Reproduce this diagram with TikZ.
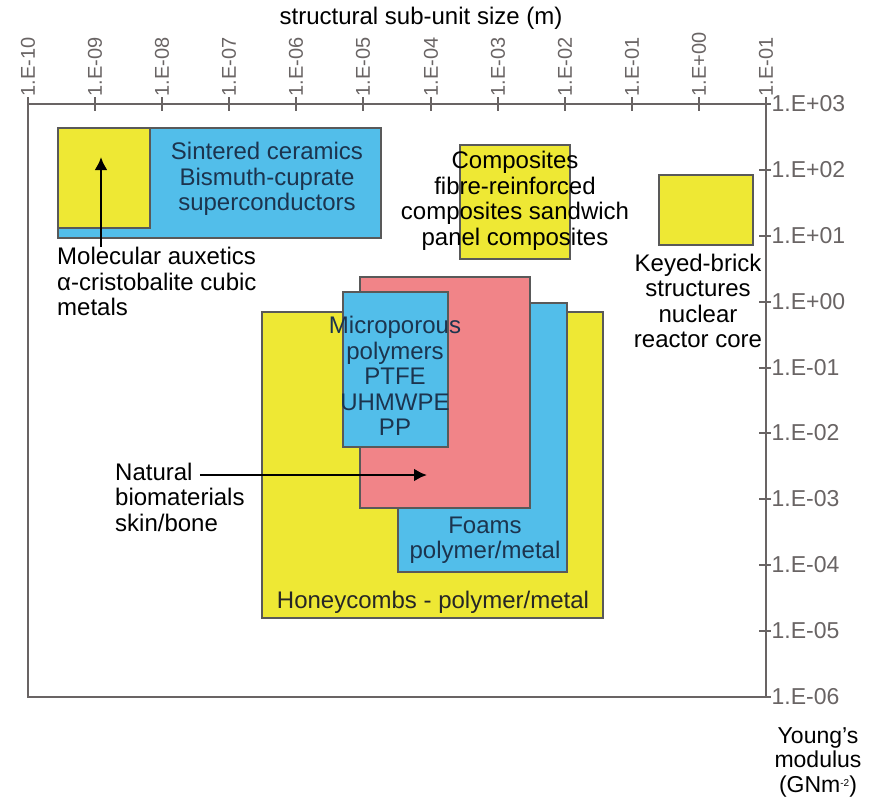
\documentclass[tikz,border=0pt]{standalone}
\usepackage{fontspec}
\setmainfont{Liberation Sans}
\usetikzlibrary{arrows.meta,positioning}

\definecolor{boxyellow}{RGB}{238,232,52}
\definecolor{boxblue}{RGB}{82,190,234}
\definecolor{boxpink}{RGB}{241,132,136}
\definecolor{navytext}{RGB}{28,52,78}
\definecolor{axisgray}{RGB}{105,100,100}

\begin{document}
\begin{tikzpicture}[x=1pt, y=-1pt,
    lab/.style={font=\fontsize{24}{25.5}\selectfont, align=center, inner sep=0pt},
    toplab/.style={font=\fontsize{20}{20}\selectfont, rotate=90, anchor=west, inner sep=0pt},
    rightlab/.style={font=\fontsize{23}{23}\selectfont, anchor=west, inner sep=0pt},
    box/.style={draw=black!65, line width=1.3pt},
    pointer/.style={-{Latex[length=13pt,width=13pt]}, line width=2.6pt}]
    \useasboundingbox (0,0) rectangle (869,801);

    % Frame and axes
    \draw[axisgray, line width=1.6pt] (28,104) rectangle (766,697);
    \node[lab] (xtitle) at (421,18) {structural sub-unit size (m)};

    % Top axis: sub-unit size
    \draw[axisgray, line width=1.3pt] (28,97) -- (28,111) node[pos=0, toplab] (x0) {1.E-10};
    \draw[axisgray, line width=1.3pt] (95,97) -- (95,111) node[pos=0, toplab] (x1) {1.E-09};
    \draw[axisgray, line width=1.3pt] (162,97) -- (162,111) node[pos=0, toplab] (x2) {1.E-08};
    \draw[axisgray, line width=1.3pt] (229,97) -- (229,111) node[pos=0, toplab] (x3) {1.E-07};
    \draw[axisgray, line width=1.3pt] (296,97) -- (296,111) node[pos=0, toplab] (x4) {1.E-06};
    \draw[axisgray, line width=1.3pt] (363,97) -- (363,111) node[pos=0, toplab] (x5) {1.E-05};
    \draw[axisgray, line width=1.3pt] (431,97) -- (431,111) node[pos=0, toplab] (x6) {1.E-04};
    \draw[axisgray, line width=1.3pt] (498,97) -- (498,111) node[pos=0, toplab] (x7) {1.E-03};
    \draw[axisgray, line width=1.3pt] (565,97) -- (565,111) node[pos=0, toplab] (x8) {1.E-02};
    \draw[axisgray, line width=1.3pt] (632,97) -- (632,111) node[pos=0, toplab] (x9) {1.E-01};
    \draw[axisgray, line width=1.3pt] (699,97) -- (699,111) node[pos=0, toplab] (x10) {1.E+00};
    \draw[axisgray, line width=1.3pt] (766,97) -- (766,111) node[pos=0, toplab] (x11) {1.E-01};

    % Right axis: Young's modulus
    \draw[axisgray, line width=1.3pt] (759,104) -- (771,104) node[rightlab] (y0) {1.E+03};
    \draw[axisgray, line width=1.3pt] (759,170) -- (771,170) node[rightlab] (y1) {1.E+02};
    \draw[axisgray, line width=1.3pt] (759,236) -- (771,236) node[rightlab] (y2) {1.E+01};
    \draw[axisgray, line width=1.3pt] (759,302) -- (771,302) node[rightlab] (y3) {1.E+00};
    \draw[axisgray, line width=1.3pt] (759,368) -- (771,368) node[rightlab] (y4) {1.E-01};
    \draw[axisgray, line width=1.3pt] (759,433) -- (771,433) node[rightlab] (y5) {1.E-02};
    \draw[axisgray, line width=1.3pt] (759,499) -- (771,499) node[rightlab] (y6) {1.E-03};
    \draw[axisgray, line width=1.3pt] (759,565) -- (771,565) node[rightlab] (y7) {1.E-04};
    \draw[axisgray, line width=1.3pt] (759,631) -- (771,631) node[rightlab] (y8) {1.E-05};
    \draw[axisgray, line width=1.3pt] (759,697) -- (771,697) node[rightlab] (y9) {1.E-06};
    \node[lab, font=\fontsize{23}{24.5}\selectfont] (ytitle) at (818,762)
        {Young's\\modulus\\(GNm\raisebox{6pt}{\fontsize{10}{10}\selectfont -2})};

    % Ceramics and molecular auxetics
    \filldraw[box, fill=boxblue] (58,128) rectangle (381,238);
    \filldraw[box, fill=boxyellow] (58,128) rectangle (150,228);
    \node[lab, text=navytext] (ceram) at (267,179) {Sintered ceramics\\Bismuth-cuprate\\superconductors};
    \node[lab, align=left, anchor=north west] (mol) at (57,247) {Molecular auxetics\\α-cristobalite cubic\\metals};
    \coordinate (molend) at (101,157);
    \draw[pointer] (mol.north -| molend) -- (molend);

    % Composites
    \filldraw[box, fill=boxyellow] (460,145) rectangle (570,259);
    \node[lab] (comp) at (515,201) {Composites\\fibre-reinforced\\composites sandwich\\panel composites};

    % Keyed-brick
    \filldraw[box, fill=boxyellow] (659,175) rectangle (753,245);
    \node[lab] (keyed) at (698,301) {Keyed-brick\\structures\\nuclear\\reactor core};

    % Honeycombs, foams, biomaterials, microporous polymers
    \filldraw[box, fill=boxyellow] (262,312) rectangle (603,618);
    \filldraw[box, fill=boxblue] (398,303) rectangle (567,572);
    \filldraw[box, fill=boxpink] (360,277) rectangle (530,508);
    \filldraw[box, fill=boxblue] (343,292) rectangle (448,447);
    \node[lab, text=black!85] (honey) at (433,602) {Honeycombs - polymer/metal};
    \node[lab, text=navytext] (foams) at (485,540) {Foams\\polymer/metal};
    \node[lab, text=navytext] (micro) at (395,376) {Microporous\\polymers\\PTFE\\UHMWPE\\PP};

    % Natural biomaterials
    \node[lab, anchor=west] (nat) at (115,472) {Natural};
    \node[lab, align=left, below=7pt of nat.south west, anchor=north west] (bio) {biomaterials\\skin/bone};
    \coordinate (natend) at (427,475);
    \draw[pointer] ([xshift=7pt]nat.east |- natend) -- (natend);
\end{tikzpicture}
\end{document}
